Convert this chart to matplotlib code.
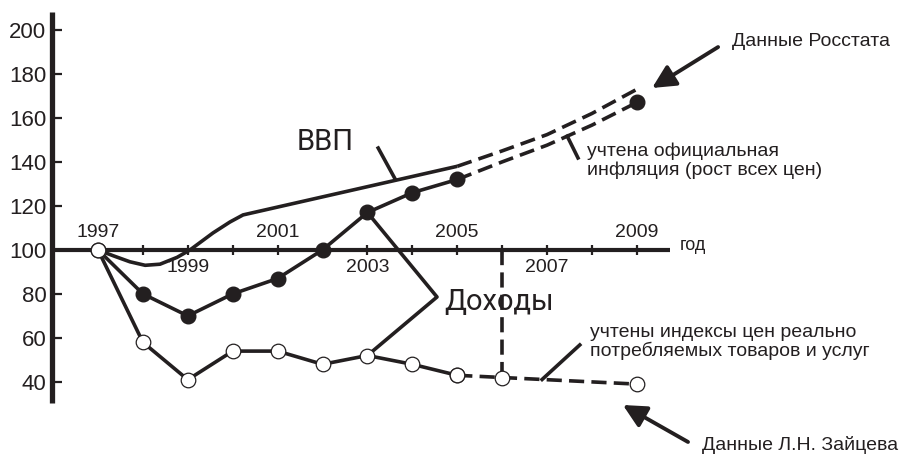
import numpy as np
import matplotlib
matplotlib.use('Agg')
import matplotlib.pyplot as plt

plt.rcParams['font.family'] = ['Liberation Sans', 'DejaVu Sans']

# --- data (1997 = 100) ---
years = np.arange(1997, 2010)

# Rosstat incomes: solid with dots up to 2005, dashed estimate to 2009
rosstat_years = [1997, 1998, 1999, 2000, 2001, 2002, 2003, 2004, 2005]
rosstat_vals = [100, 80, 70, 80, 87, 100, 117, 126, 132]
rosstat_proj_years = [2005, 2006, 2007, 2008, 2009]
rosstat_proj_vals = [132, 140, 147.6, 156.7, 167]

# GDP
gdp_years = [1997, 1997.33, 1997.71, 1998.05, 1998.38, 1998.76, 1999.05, 1999.56,
             1999.94, 2000.23, 2005]
gdp_vals = [100, 97.4, 94.6, 93, 93.5, 96.6, 100, 107.7, 112.7, 115.9, 138]
gdp_proj_years = [2005, 2006, 2007, 2008, 2009]
gdp_proj_vals = [138, 145, 152.4, 162, 173]

# Zaitsev incomes
zait_years = [1997, 1998, 1999, 2000, 2001, 2002, 2003, 2004, 2005]
zait_vals = [100, 58, 41, 54, 54, 48, 52, 48, 43]
zait_proj_years = [2005, 2006, 2009]
zait_proj_vals = [43, 42, 39]

yticks = [40, 60, 80, 100, 120, 140, 160, 180, 200]
year_labels = [1997, 1999, 2001, 2003, 2005, 2007, 2009]

ink = '#231f20'

fig = plt.figure(figsize=(9.05, 4.58), dpi=100)
ax = fig.add_axes([0, 0, 1, 1])
ax.set_xlim(1994.817, 2014.973)
ax.set_ylim(5.41, 213.59)

lw = 2.6
dash = (0, (4.2, 2.0))

# axes drawn as crossing lines: y axis on the left, year axis at 100
for s in ['top', 'right']:
    ax.spines[s].set_visible(False)
ax.spines['left'].set_position(('data', 1995.976))
ax.spines['left'].set_bounds(30.4, 208.1)
ax.spines['left'].set_linewidth(3.8)
ax.spines['bottom'].set_position(('data', 100))
ax.spines['bottom'].set_bounds(1995.976, 2009.74)
ax.spines['bottom'].set_linewidth(3.0)
for s in ['left', 'bottom']:
    ax.spines[s].set_capstyle('butt')
    ax.spines[s].set_color(ink)

ax.set_yticks(yticks)
ax.set_yticklabels([str(v) for v in yticks])
ax.tick_params(axis='y', direction='in', length=7.5, width=1.6, labelsize=16, pad=4,
               color=ink, labelcolor=ink)
ax.set_xticks(years)
ax.set_xticklabels([])
ax.tick_params(axis='x', direction='inout', length=7.5, width=1.6, color=ink)

for i, yr in enumerate(year_labels):
    off = 12.5 if i % 2 == 0 else -13
    ax.annotate(str(yr), (yr, 100), xytext=(0, off), textcoords='offset points',
                ha='center', va='center', fontsize=14, color=ink)
ax.text(2009.96, 102.2, 'год', ha='left', va='center', fontsize=13, color=ink)

# GDP
ax.plot(gdp_years, gdp_vals, color=ink, lw=lw, solid_capstyle='butt',
        solid_joinstyle='round', zorder=3)
ax.plot(gdp_proj_years, gdp_proj_vals, color=ink, lw=lw, linestyle=dash, zorder=3)

# Rosstat incomes
ax.plot(rosstat_years, rosstat_vals, color=ink, lw=lw, marker='o', markersize=10.5,
        markerfacecolor=ink, markeredgecolor=ink, zorder=4)
ax.plot(rosstat_proj_years, rosstat_proj_vals, color=ink, lw=lw, linestyle=dash, zorder=3)
ax.plot(rosstat_proj_years[-1], rosstat_proj_vals[-1], marker='o', markersize=10.5,
        color=ink, zorder=5)

# Zaitsev incomes
ax.plot(zait_years, zait_vals, color=ink, lw=lw, marker='o', markersize=10.5,
        markerfacecolor='white', markeredgecolor=ink, markeredgewidth=0.9, zorder=4)
ax.plot(zait_proj_years, zait_proj_vals, color=ink, lw=lw, linestyle=dash, marker='o',
        markersize=10.5, markerfacecolor='white', markeredgecolor=ink,
        markeredgewidth=0.9, zorder=4)

# vertical dashed line at 2006
ax.plot([2006, 2006], [100, zait_proj_vals[1]], color=ink, lw=lw, linestyle=dash, zorder=2)

# labels with pointer lines
ax.text(2001.43, 145.4, 'ВВП', fontsize=21, family=['Roboto', 'DejaVu Sans'],
        ha='left', va='baseline', color=ink)
ax.plot([2003.24, 2003.61], [146.3, 132.5], color=ink, lw=lw, zorder=3)

ax.text(2004.71, 72.7, 'Доходы', fontsize=21, family=['Roboto', 'DejaVu Sans'],
        ha='left', va='baseline', color=ink)
ax.plot([2003, 2004.55, 2003], [rosstat_vals[6], 78.6, zait_vals[6]], color=ink,
        lw=lw, zorder=3)

ax.text(2007.89, 140.4, 'учтена официальная\nинфляция (рост всех цен)', fontsize=14,
        ha='left', va='center', linespacing=1.1, color=ink)
ax.plot([2007.45, 2007.69], [151.7, 141.8], color=ink, lw=lw, zorder=3)

ax.text(2007.96, 58.1, 'учтены индексы цен реально\nпотребляемых товаров и услуг', fontsize=14,
        ha='left', va='center', linespacing=1.05, color=ink)
ax.plot([2006.89, 2007.73], [41.1, 56.8], color=ink, lw=lw, zorder=3)

# source arrows
arrow = dict(arrowstyle='-|>,head_length=0.5,head_width=0.25', lw=2.8, color=ink,
             mutation_scale=28, shrinkA=0, shrinkB=0)
ax.annotate('', xy=(2009.34, 173.6), xytext=(2010.81, 192.2), arrowprops=arrow)
ax.text(2011.12, 194.5, 'Данные Росстата', fontsize=14, ha='left', va='center', color=ink)
ax.annotate('', xy=(2008.69, 29.5), xytext=(2010.14, 12.7), arrowprops=arrow)
ax.text(2010.45, 11.5, 'Данные Л.Н. Зайцева', fontsize=14, ha='left', va='center', color=ink)

plt.savefig('out.png', dpi=100)
